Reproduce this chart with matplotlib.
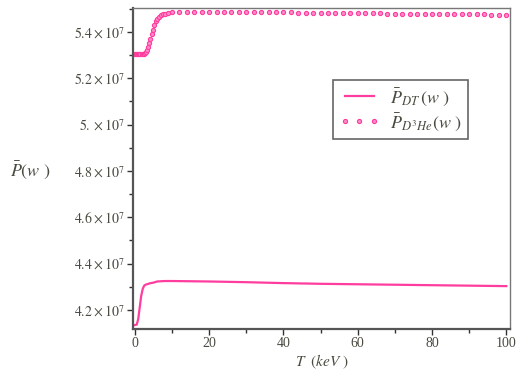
import matplotlib
matplotlib.use("Agg")
import matplotlib.pyplot as plt
from matplotlib.ticker import FixedLocator, FuncFormatter, MultipleLocator

# ---- data (values in units of 1e7) ----
T_dt = [0, 0.5, 0.9, 1.3, 1.7, 2.1, 2.5, 3.0, 3.5, 4.0, 5.0, 6.0, 8.0, 10, 20, 30, 40, 50, 60, 70, 80, 90, 100]
P_dt = [4.135, 4.137, 4.16, 4.21, 4.26, 4.29, 4.305, 4.31, 4.312, 4.315, 4.318, 4.323, 4.325, 4.325,
        4.323, 4.320, 4.316, 4.313, 4.311, 4.309, 4.307, 4.305, 4.303]

T_he = [0, 0.3, 0.6, 0.9, 1.2, 1.5, 1.8, 2.1, 2.4, 2.7, 3.0, 3.3, 3.6, 3.9, 4.2, 4.5, 4.8,
        5.2, 5.6, 6.0, 6.5, 7.0, 7.5, 8.0, 9.0, 10.0,
        12, 14, 16, 18, 20, 22, 24, 26, 28, 30, 32, 34, 36, 38, 40, 42, 44, 46, 48, 50,
        52, 54, 56, 58, 60, 62, 64, 66, 68, 70, 72, 74, 76, 78, 80, 82, 84, 86, 88, 90,
        92, 94, 96, 98, 100]
P_he = [5.303, 5.303, 5.303, 5.303, 5.303, 5.303, 5.303, 5.304, 5.305, 5.307, 5.312, 5.32, 5.333, 5.35,
        5.37, 5.39, 5.41,
        5.43, 5.445, 5.457, 5.466, 5.472, 5.476, 5.479, 5.483, 5.485,
        5.486, 5.486, 5.486, 5.486, 5.486, 5.486, 5.486, 5.486, 5.485, 5.485, 5.485, 5.485, 5.484,
        5.484, 5.484, 5.484, 5.483, 5.483, 5.483, 5.482, 5.482, 5.482, 5.481, 5.481, 5.481,
        5.480, 5.480, 5.480, 5.479, 5.479, 5.479, 5.478, 5.478, 5.478, 5.477, 5.477, 5.477,
        5.476, 5.476, 5.476, 5.475, 5.475, 5.474, 5.474, 5.473]

x_ticks = [0, 20, 40, 60, 80, 100]
y_ticks = [4.2, 4.4, 4.6, 4.8, 5.0, 5.2, 5.4]
y_tick_labels = ["4.2", "4.4", "4.6", "4.8", "5.", "5.2", "5.4"]

label_dt = r"$\bar{P}_{DT}\,(w\ )$"
label_he = r"$\bar{P}_{D^3He}(w\ )$"

# ---- style ----
plt.rcParams["font.family"] = ["Liberation Serif", "DejaVu Serif"]
plt.rcParams["mathtext.fontset"] = "stix"
pink = "#ff3d9e"
txt = "#4a4a40"

fig = plt.figure(figsize=(5.17, 3.74), dpi=100)
ax = fig.add_axes([133 / 517, 1 - 329 / 374, (510 - 133) / 517, (329 - 8) / 374])

ax.plot(T_dt, P_dt, color=pink, lw=1.6, label=label_dt)
ax.plot(T_he, P_he, linestyle="none", marker="o", ms=3.0, mfc="#ff8cc8", mec=pink, mew=0.8,
        label=label_he)

ax.set_xlim(-0.5, 101)
ax.set_ylim(4.118, 5.503)

ax.xaxis.set_major_locator(FixedLocator(x_ticks))
ax.xaxis.set_minor_locator(MultipleLocator(10))
ax.yaxis.set_major_locator(FixedLocator(y_ticks))
ax.yaxis.set_minor_locator(MultipleLocator(0.1))
lab = dict(zip(y_ticks, y_tick_labels))
ax.yaxis.set_major_formatter(FuncFormatter(
    lambda v, p: "$" + lab.get(round(v, 1), "%.1f" % v) + r"\times 10^{7}$"))

ax.tick_params(axis="both", which="major", length=4, width=1, color="#333333",
               labelsize=10, labelcolor=txt, pad=2)
ax.tick_params(axis="both", which="minor", length=3, width=1, color="#333333")

for s in ["left", "bottom"]:
    ax.spines[s].set_linewidth(1.6)
    ax.spines[s].set_color("#555555")
for s in ["top", "right"]:
    ax.spines[s].set_linewidth(1.0)
    ax.spines[s].set_color("#777777")

ax.set_xlabel(r"$T\ \ (keV\ )$", fontsize=11, color=txt, labelpad=2)
fig.text(10 / 517, 1 - 170 / 374, r"$\bar{P}(w\ )$", fontsize=13, color=txt,
         ha="left", va="center")

leg = ax.legend(loc="upper left", bbox_to_anchor=((333 - 133) / 377, (329 - 80) / 321),
                borderaxespad=0, fontsize=13, numpoints=3, handlelength=2.2,
                fancybox=False, framealpha=1, edgecolor="#666666",
                borderpad=0.35, labelspacing=0.2, handletextpad=0.6)
leg.get_frame().set_linewidth(1.2)
for t in leg.get_texts():
    t.set_color(txt)

fig.savefig("out.png", dpi=100)
